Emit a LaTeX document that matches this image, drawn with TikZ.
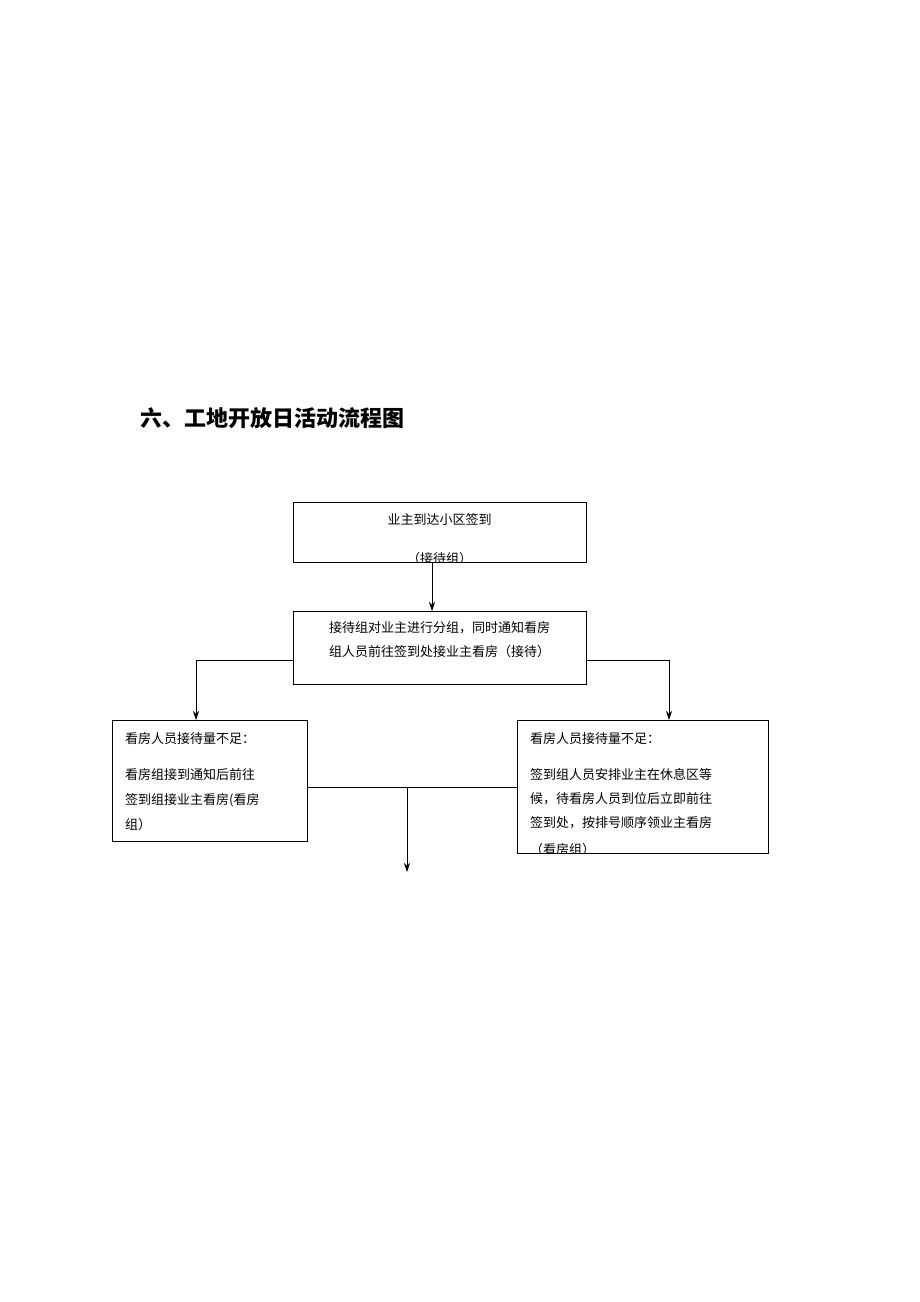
\documentclass[tikz,border=0pt]{standalone}
\usepackage{fontspec}
\usetikzlibrary{arrows.meta}
\setmainfont{Noto Sans CJK SC}
\begin{document}
\begin{tikzpicture}[x=1pt,y=-1pt,
  box/.style={draw,line width=0.8pt},
  txt/.style={inner sep=0pt,font=\fontsize{13}{13}\selectfont,anchor=west},
  ctxt/.style={inner sep=0pt,font=\fontsize{13}{13}\selectfont},
  arr/.style={-{Stealth[length=9pt,width=6pt]},line width=0.8pt},
  ln/.style={line width=0.8pt}]
\useasboundingbox (0,0) rectangle (920,1302);
\node[anchor=west,inner sep=0pt,font=\fontsize{22}{22}\selectfont\bfseries] (title) at (140,418) {六、工地开放日活动流程图};
% box 1
\node[box,minimum width=293pt,minimum height=60pt,anchor=north west,inner sep=0pt] (b1) at (293,502) {};
\begin{scope}
\clip (293,502) rectangle (586,562);
\node[ctxt] (t1a) at (439.5,520) {业主到达小区签到};
\node[ctxt] (t1b) at (439.5,559) {（接待组）};
\end{scope}
% box 2
\node[box,minimum width=293pt,minimum height=73pt,anchor=north west,inner sep=0pt] (b2) at (293,611) {};
\node[ctxt] (t2a) at (439.5,628) {接待组对业主进行分组，同时通知看房};
\node[ctxt] (t2b) at (439.5,652) {组人员前往签到处接业主看房（接待）};
% box 3
\node[box,minimum width=195pt,minimum height=121pt,anchor=north west,inner sep=0pt] (b3) at (112,720) {};
\node[txt] (t3a) at (125,739) {看房人员接待量不足：};
\node[txt] (t3b) at (125,775) {看房组接到通知后前往};
\node[txt] (t3c) at (125,800) {签到组接业主看房(看房};
\node[txt] (t3d) at (125,825) {组）};
% box 4
\node[box,minimum width=251pt,minimum height=133pt,anchor=north west,inner sep=0pt] (b4) at (517,720) {};
\node[txt] (t4a) at (530,739) {看房人员接待量不足：};
\begin{scope}
\clip (517,720) rectangle (768,853);
\node[txt] (t4b) at (530,775) {签到组人员安排业主在休息区等};
\node[txt] (t4c) at (530,799) {候，待看房人员到位后立即前往};
\node[txt] (t4d) at (530,823) {签到处，按排号顺序领业主看房};
\node[txt] (t4e) at (530,850) {（看房组）};
\end{scope}
% connectors
\draw[arr] (432,562) -- (432,611);
\coordinate (lc) at (196,660);
\coordinate (rc) at (669,660);
\draw[arr] (b2.west |- lc) -- (lc) -- (196,720);
\draw[arr] (b2.east |- rc) -- (rc) -- (669,720);
\coordinate (mid) at (407,787);
\coordinate (end) at (407,872);
\draw[ln] (b3.east |- mid) -- (b4.west |- mid);
\draw[arr] (mid) -- (end);
\end{tikzpicture}
\end{document}
